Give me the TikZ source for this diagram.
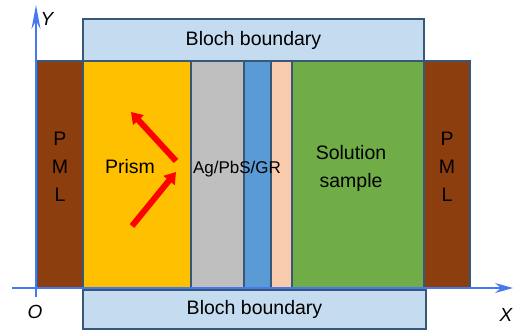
\documentclass[tikz,border=0pt]{standalone}
\usepackage{fontspec}
\setmainfont{Liberation Sans}
\usetikzlibrary{arrows.meta}
\definecolor{bord}{RGB}{56,88,122}
\definecolor{axblue}{RGB}{70,120,240}
\definecolor{pmlc}{RGB}{140,62,14}
\definecolor{prismc}{RGB}{255,192,0}
\definecolor{grayc}{RGB}{191,191,191}
\definecolor{bluec}{RGB}{91,155,213}
\definecolor{pinkc}{RGB}{248,203,173}
\definecolor{greenc}{RGB}{112,173,71}
\definecolor{blochc}{RGB}{197,219,239}
\begin{document}
\begin{tikzpicture}[x=1pt,y=-1pt,
  box/.style={draw=bord,line width=2.5pt,inner sep=0pt,outer sep=0pt,anchor=north west,
    font=\fontsize{19.5}{28}\selectfont,align=center},
  txt/.style={font=\fontsize{19.5}{28}\selectfont,align=center},
  axis/.style={draw=axblue,line width=1.5pt},
  beam/.style={draw=red,line width=6pt,-{Triangle[length=11pt,width=14pt]}},
  lab/.style={font=\fontsize{19}{22}\selectfont\itshape}]
\useasboundingbox (0,0) rectangle (514,330);
% boxes
\node[box,fill=blochc,minimum width=341pt,minimum height=42pt] (btop) at (83,19) {Bloch boundary};
\node[box,fill=blochc,minimum width=343pt,minimum height=39pt] (bbot) at (83,290) {Bloch boundary};
\node[box,fill=pmlc,minimum width=46pt,minimum height=227pt] (pmlL) at (37,61) {};
\node[box,fill=prismc,minimum width=108pt,minimum height=227pt] (prism) at (83,61) {};
\node[box,fill=grayc,minimum width=53pt,minimum height=227pt] (gray) at (191,61) {};
\node[box,fill=bluec,minimum width=27pt,minimum height=227pt] (blue) at (244,61) {};
\node[box,fill=pinkc,minimum width=21pt,minimum height=227pt] (pink) at (271,61) {};
\node[box,fill=greenc,minimum width=132pt,minimum height=227pt] (green) at (292,61) {};
\node[box,fill=pmlc,minimum width=46pt,minimum height=227pt] (pmlR) at (424,61) {};
% texts
\node[txt] (pmlLt) at (60,167) {P\\M\\L};
\node[txt] (pmlRt) at (447,167) {P\\M\\L};
\node[txt] (prismt) at (130,167) {Prism};
\node[font=\fontsize{17}{20}\selectfont] (agt) at (237,169) {Ag/PbS/GR};
\node[txt] (solt) at (351,168) {Solution\\sample};
% beams
\coordinate (b1s) at (132,226);
\coordinate (b1e) at (176,172);
\coordinate (b2s) at (176,161);
\coordinate (b2e) at (131,112);
\draw[beam] (b1s) -- (b1e);
\draw[beam] (b2s) -- (b2e);
% axes
\coordinate (O) at (36,288);
\coordinate (ytop) at (36,5);
\coordinate (ybot) at (36,297);
\coordinate (xl) at (12,288);
\coordinate (xr) at (513,288);
\draw[axis,-{Stealth[length=24pt,width=9pt,inset=8pt]}] (ybot) -- (ytop);
\draw[axis,-{Stealth[length=18pt,width=10pt,inset=6pt]}] (xl) -- (xr);
\node[lab] (ylab) at (47,19) {Y};
\node[lab] (olab) at (35,312) {O};
\node[lab] (xlab) at (506,315) {X};
\end{tikzpicture}
\end{document}
